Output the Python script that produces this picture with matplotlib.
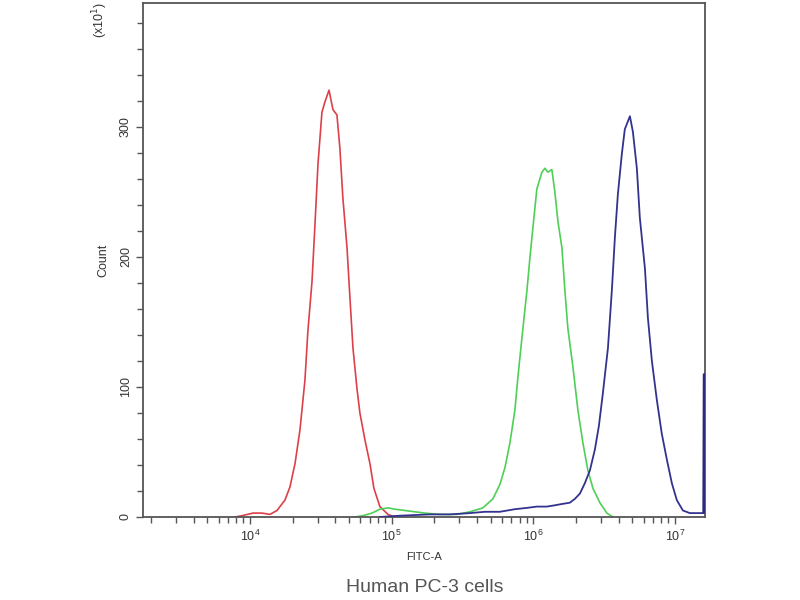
import matplotlib
matplotlib.use("Agg")
import matplotlib.pyplot as plt
import numpy as np
from matplotlib.ticker import LogLocator, MultipleLocator, FixedLocator

plt.rcParams['font.family'] = ['Liberation Sans', 'DejaVu Sans']

# log10(FITC-A) positions and counts (x10^1)
red_log = [3.894, 3.944, 4.021, 4.085, 4.141, 4.191, 4.247, 4.282, 4.318, 4.353,
           4.388, 4.409, 4.438, 4.459, 4.480, 4.508, 4.529, 4.558, 4.586, 4.614,
           4.635, 4.656, 4.685, 4.706, 4.727, 4.755, 4.776, 4.812, 4.847, 4.875,
           4.917, 4.974, 5.023]
red_cnt = [0, 1, 3, 3, 2, 5, 13, 23, 41, 67,
           105, 143, 181, 225, 271, 311, 319, 328, 313, 309,
           283, 245, 207, 168, 130, 99, 80, 59, 41, 22,
           8, 2, 0]

green_log = [4.741, 4.797, 4.861, 4.917, 4.974, 5.023, 5.094, 5.164, 5.235, 5.341,
             5.461, 5.553, 5.644, 5.715, 5.764, 5.800, 5.835, 5.870, 5.891, 5.920,
             5.955, 5.976, 5.997, 6.025, 6.061, 6.082, 6.103, 6.131, 6.152, 6.174,
             6.202, 6.223, 6.244, 6.280, 6.315, 6.350, 6.385, 6.421, 6.470, 6.519,
             6.562]
green_cnt = [0, 1, 3, 6, 7, 6, 5, 4, 3, 2,
             2, 4, 7, 14, 25, 38, 57, 82, 107, 138,
             174, 199, 222, 252, 265, 268, 265, 267, 250, 227,
             207, 174, 145, 115, 82, 57, 36, 22, 11, 3,
             0]

blue_log = [4.917, 5.059, 5.270, 5.411, 5.553, 5.658, 5.764, 5.870, 5.955, 6.025,
            6.096, 6.152, 6.202, 6.258, 6.294, 6.329, 6.364, 6.400, 6.435, 6.463,
            6.491, 6.527, 6.555, 6.576, 6.597, 6.625, 6.646, 6.682, 6.703, 6.731,
            6.752, 6.788, 6.809, 6.837, 6.872, 6.907, 6.943, 6.978, 7.013, 7.056,
            7.105, 7.162, 7.205, 7.208]
blue_cnt = [0, 1, 2, 2, 3, 4, 4, 6, 7, 8,
            8, 9, 10, 11, 14, 18, 26, 36, 52, 70,
            95, 130, 175, 215, 248, 279, 298, 308, 296, 268,
            230, 191, 153, 120, 90, 64, 44, 26, 13, 5,
            3, 3, 3, 110]

x_ticks = [1e4, 1e5, 1e6, 1e7]
y_ticks = [0, 100, 200, 300]

fig = plt.figure(figsize=(8, 6), dpi=100)
ax = fig.add_axes([143/800, 83/600, 562/800, 514/600])

ax.plot(10**np.array(red_log), red_cnt, color='#dd4048', lw=1.2)
ax.plot(10**np.array(green_log), green_cnt, color='#4fcf55', lw=1.2)
ax.plot(10**np.array(blue_log), blue_cnt, color='#33338f', lw=1.3, zorder=3)
# last (overflow) bin drawn as a heavier edge segment, as in the reference
ax.plot(10**np.array(blue_log[-2:]), blue_cnt[-2:], color='#2a2a80', lw=2.4,
        zorder=3, solid_capstyle='butt')

ax.set_xscale('log')
ax.set_xlim(10**3.245, 10**7.212)
ax.set_ylim(0, 395)

ax.xaxis.set_major_locator(FixedLocator(x_ticks))
ax.xaxis.set_minor_locator(LogLocator(base=10, subs=np.arange(2, 10), numticks=20))
ax.yaxis.set_major_locator(FixedLocator(y_ticks))
ax.yaxis.set_minor_locator(MultipleLocator(20))

ax.tick_params(axis='both', which='both', direction='out', color='#555555',
               width=1.0, labelsize=9, labelcolor='#333333')
ax.tick_params(axis='both', which='major', length=5)
ax.tick_params(axis='both', which='minor', length=4)
ax.tick_params(axis='y', pad=3)
plt.setp(ax.get_yticklabels(), rotation=90, va='center')

for s in ax.spines.values():
    s.set_color('#555555')
    s.set_linewidth(1.3)

fig.text(103/800, 1-260/600, 'Count', rotation=90, ha='center', va='center',
         fontsize=9, color='#333333')
fig.text(100/800, 1-20/600, '(x10$^{1}$)', rotation=90, ha='center', va='center',
         fontsize=9, color='#333333')
fig.text(424/800, 1-557/600, 'FITC-A', ha='center', va='center',
         fontsize=8, color='#333333')
fig.text(425/800, 1-587/600, 'Human PC-3 cells', ha='center', va='center',
         fontsize=14, color='#555555')

fig.savefig('out.png', dpi=100, facecolor='white')
